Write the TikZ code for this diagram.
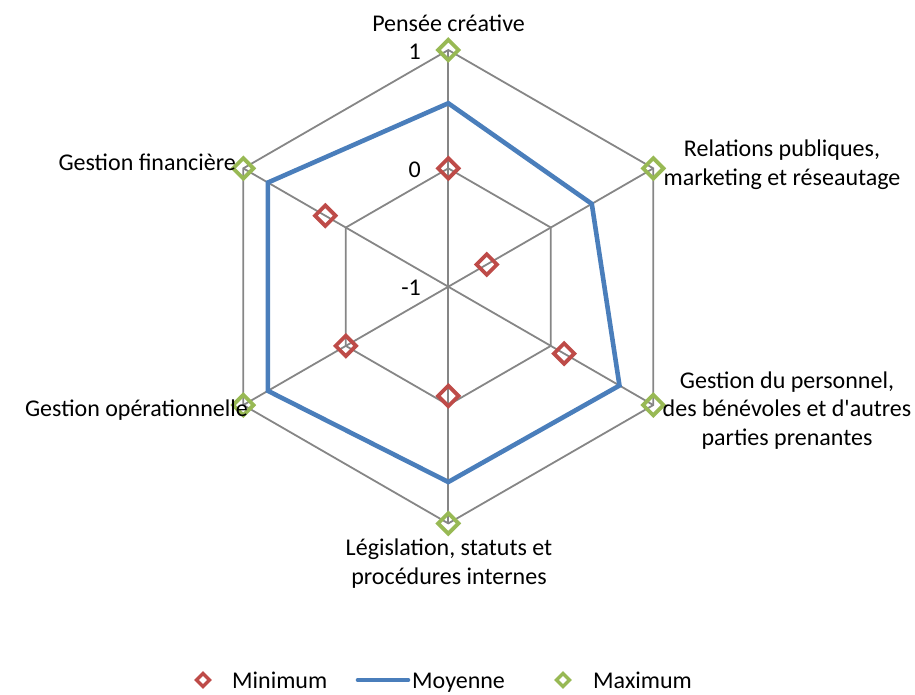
\documentclass[tikz,border=0pt]{standalone}
\usepackage{fontspec}
\setmainfont{Carlito}
\usetikzlibrary{shapes.geometric}
\definecolor{gridgray}{HTML}{868686}
\definecolor{meanblue}{HTML}{4A7EBB}
\definecolor{minred}{HTML}{BE4B48}
\definecolor{maxgreen}{HTML}{98B954}
\begin{document}
\begin{tikzpicture}[x=1pt,y=1pt,
  grid/.style={draw=gridgray, line width=1.8pt},
  meanline/.style={draw=meanblue, line width=4.6pt, line join=miter},
  mk/.style={diamond, draw=#1, line width=3.8pt, minimum size=22pt, inner sep=0pt},
  lgmk/.style={diamond, draw=#1, line width=3.4pt, minimum size=14.5pt, inner sep=0pt},
  lbl/.style={font=\fontsize{24}{28.5}\selectfont, align=center, inner sep=0pt},
  axlbl/.style={font=\fontsize{24}{28.5}\selectfont, inner sep=0pt, anchor=base east}]
\useasboundingbox (0,0) rectangle (915,-694);
\begin{scope}[shift={(448.3,-286.7)}]
  \coordinate (O) at (0,0);
  \foreach \a [count=\i] in {90,30,-30,-90,-150,150} {
    \coordinate (A\i) at (\a:236.7pt);
    \coordinate (M\i) at (\a:118.35pt);
  }
  \draw[grid] (A1)--(A2)--(A3)--(A4)--(A5)--(A6)--cycle;
  \draw[grid] (M1)--(M2)--(M3)--(M4)--(M5)--(M6)--cycle;
  \foreach \i in {1,...,6} { \draw[grid] (O)--(A\i); }
  % Moyenne
  \foreach \a/\v [count=\i] in {90/0.55,30/0.40,-30/0.67,-90/0.65,-150/0.76,150/0.76} {
    \coordinate (B\i) at (\a:{(\v+1)*118.35pt});
  }
  % Minimum
  \foreach \a/\v [count=\i] in {90/0,30/-0.625,-30/0.13,-90/-0.077,-150/0,150/0.20} {
    \node[mk=minred] (N\i) at (\a:{(\v+1)*118.35pt}) {};
  }
  \draw[meanline] (B1)--(B2)--(B3)--(B4)--(B5)--(B6)--cycle;
  % Maximum
  \foreach \i in {1,...,6} { \node[mk=maxgreen] (X\i) at (A\i) {}; }
\end{scope}
% axis values
\node[axlbl] (v1) at (421,-59) {1};
\node[axlbl] (v0) at (421,-177) {0};
\node[axlbl] (vm1) at (421,-295) {-1};
% category labels
\node[lbl, anchor=base] (c1) at (448.5,-31.5) {Pensée créative};
\node[lbl, anchor=base] (c2) at (782,-185) {Relations publiques,\\marketing et réseautage};
\node[lbl, anchor=base] (c3) at (787,-445) {Gestion du personnel,\\des bénévoles et d\textquotesingle autres\\parties prenantes};
\node[lbl, anchor=base] (c4) at (449,-584) {Législation, statuts et\\procédures internes};
\node[lbl, anchor=base east] (c5) at (248,-416) {Gestion opérationnelle};
\node[lbl, anchor=base east] (c6) at (236,-170) {Gestion financière};
% legend
\node[lgmk=minred] (L1) at (203,-680) {};
\node[lbl, anchor=base west] (LT1) at (232,-688.5) {Minimum};
\coordinate (LB1) at (358,-680);
\coordinate (LB2) at (408,-680);
\draw[meanline, line cap=round] (LB1)--(LB2);
\node[lbl, anchor=base west] (LT2) at (412,-688.5) {Moyenne};
\node[lgmk=maxgreen] (L3) at (563,-680) {};
\node[lbl, anchor=base west] (LT3) at (593,-688.5) {Maximum};
\end{tikzpicture}
\end{document}
